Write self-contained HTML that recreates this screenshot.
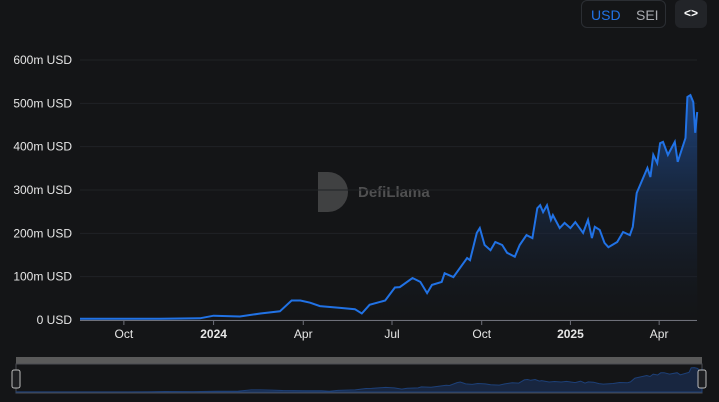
<!DOCTYPE html>
<html><head><meta charset="utf-8"><style>
html,body{margin:0;padding:0;background:#141517;width:719px;height:402px;overflow:hidden;font-family:"Liberation Sans",sans-serif}
#wrap{position:relative;width:719px;height:402px}
.btns{position:absolute;left:581px;top:0;width:85px;height:28px;border:1px solid #2b2e33;border-radius:6px;box-sizing:border-box}
.btns span{position:absolute;top:6px;font-size:14px}
.code{position:absolute;left:675px;top:0;width:32px;height:28px;background:#222428;border-radius:6px;color:#fff;font-size:12px;text-align:center;line-height:27px;font-weight:bold}
</style></head><body><div id="wrap">
<div class="btns">
<span style="left:9px;color:#2172e5">USD</span>
<span style="left:54px;color:#a9abb0">SEI</span></div>
<div class="code">&lt;&gt;</div>
<svg id="svg" width="719" height="402" style="position:absolute;left:0;top:0">
<defs><linearGradient id="g" x1="0" y1="0" x2="0" y2="1"><stop offset="0" stop-color="#1f4a8c" stop-opacity="0.9"/><stop offset="1" stop-color="#141517" stop-opacity="0.2"/></linearGradient></defs>
<g opacity="0.45">
<path d="M318 172 h10 a18 18 0 0 1 0 40 h-10 z" fill="#777"/>
<text x="358" y="197" fill="#999" font-size="15" font-weight="bold">DefiLlama</text></g>
</svg>
</div>
<script>
const days=[0,41,82,123,137,164,185,205,217,226,236,246,267,282,289,297,313,323,328,341,349,356,361,371,374,383,397,400,407,410,415,421,426,433,438,446,451,458,464,469,472,475,479,483,485,492,497,503,508,516,521,525,528,533,538,542,551,557,564,567,571,582,585,588,592,595,598,603,610,613,621,623,626,629,631,633];
const values=[3,3,3,4,10,8,15,20,45,45,40,32,28,25,15,35,45,75,76,97,88,62,81,88,108,99,143,138,201,212,173,161,180,173,155,146,173,196,189,258,265,249,265,231,242,212,224,212,226,201,231,189,215,208,178,168,180,203,196,215,293,351,330,381,362,408,411,381,411,365,420,515,519,503,432,480];
const yTicks=[0,100,200,300,400,500,600];
const xTickDays=[45,137,229,320,412,503,594];
const xTickLabels=["Oct","2024","Apr","Jul","Oct","2025","Apr"];
const NS="http://www.w3.org/2000/svg",svg=document.getElementById('svg');
const X=d=>80+d*0.975, Y=v=>320-v*0.4333;
function el(t,a,p){const e=document.createElementNS(NS,t);for(const k in a)e.setAttribute(k,a[k]);(p||svg).appendChild(e);return e;}
yTicks.forEach(v=>{
 const l=el('line',{x1:80,x2:697,y1:Y(v),y2:Y(v),stroke:'#202226'});
 
 
 const t=el('text',{x:72,y:Y(v)+4,'text-anchor':'end',fill:'#e6e6e6','font-size':12});
 t.textContent=v===0?'0 USD':v+'m USD';
 
 
});
const ax=el('line',{x1:80,x2:697,y1:320.5,y2:320.5,stroke:'#6e7079'});


xTickDays.forEach((d,i)=>{
 el('line',{x1:X(d),x2:X(d),y1:320,y2:325,stroke:'#6e7079'});
 const t=el('text',{x:X(d),y:338,'text-anchor':'middle',fill:'#e6e6e6','font-size':12,'font-weight':/^\d/.test(xTickLabels[i])?'bold':'normal'});
 t.textContent=xTickLabels[i];
 
 
});
let pts=days.map((d,i)=>X(d).toFixed(1)+','+Y(values[i]).toFixed(1));
const area=el('path',{d:'M'+X(days[0])+',320 L'+pts.join(' L')+' L'+X(days[days.length-1])+',320 Z',fill:'url(#g)'});


const line=el('path',{d:'M'+pts.join(' L'),fill:'none',stroke:'#2172e5','stroke-width':2});


const nb=el('rect',{x:16,y:357,width:686,height:7,fill:'#5a5a5a'});


el('rect',{x:16,y:364,width:686,height:29,fill:'none',stroke:'#4a4c52'});
const NX=d=>16+d*(686/633), NY=v=>392-v*0.047;
const np=days.map((d,i)=>NX(d).toFixed(1)+','+NY(values[i]).toFixed(1));
const na=el('path',{d:'M16,392 L'+np.join(' L')+' L702,392 Z',fill:'#182640',stroke:'#1d4078'});


[16,702].forEach(x=>{
 const h=el('rect',{x:x-4,y:370,width:8,height:18,rx:2,fill:'#1e1f22',stroke:'#bbb'});
 
 
});
</script></body></html>
